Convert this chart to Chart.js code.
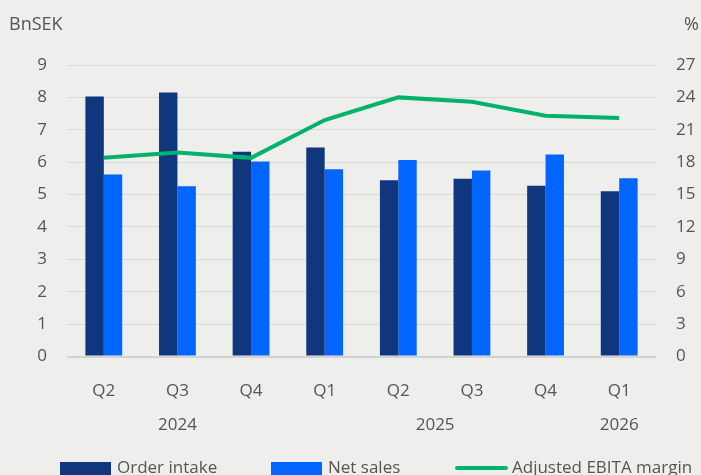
<!DOCTYPE html>
<html><head><meta charset="utf-8">
<script src="https://cdn.jsdelivr.net/npm/chart.js@4.4.0/dist/chart.umd.min.js"></script>
<style>html,body{margin:0;padding:0;background:#eeeeec;overflow:hidden}canvas{display:block}</style>
</head><body><canvas id="c" width="701" height="475"></canvas>
<script>
// Quarterly figures, BnSEK (bars) and % (line)
const quarters = ['Q2', 'Q3', 'Q4', 'Q1', 'Q2', 'Q3', 'Q4', 'Q1'];
const yearLabels = ['2024', '2025', '2026'];
const yearPositions = [1, 4.5, 7];
const orderIntake = [8.03, 8.15, 6.32, 6.45, 5.44, 5.49, 5.27, 5.10];
const netSales = [5.62, 5.26, 6.02, 5.78, 6.07, 5.74, 6.24, 5.50];
const ebitaMargin = [18.4, 18.9, 18.4, 21.9, 24.0, 23.6, 22.3, 22.1];

const FONT = '"Open Sans", "Liberation Sans", sans-serif';
const TEXT = '#555555';
const C_ORDER = '#10367e';
const C_SALES = '#0066ff';
const C_MARGIN = '#00b36b';

const extras = {
  id: 'extras',
  afterDraw(chart) {
    const ctx = chart.ctx;
    const x = chart.scales.x;
    ctx.save();
    ctx.fillStyle = TEXT;
    // unit captions
    ctx.font = '18px ' + FONT;
    ctx.textBaseline = 'alphabetic';
    ctx.textAlign = 'left';
    ctx.fillText('BnSEK', 9, 30);
    ctx.textAlign = 'right';
    ctx.fillText('%', 699, 30);
    // year row under the quarter labels
    ctx.font = '17px ' + FONT;
    ctx.textAlign = 'center';
    ctx.textBaseline = 'middle';
    yearLabels.forEach((y, i) => ctx.fillText(y, x.getPixelForValue(yearPositions[i]), 425));
    // legend
    const items = [
      { ds: chart.data.datasets[1], type: 'box' },
      { ds: chart.data.datasets[2], type: 'box' },
      { ds: chart.data.datasets[0], type: 'line' }
    ];
    const starts = [60, 271, 455];
    const cy = 468;
    ctx.textAlign = 'left';
    items.forEach((it, i) => {
      const lx = starts[i];
      if (it.type === 'box') {
        ctx.fillStyle = it.ds.backgroundColor;
        ctx.fillRect(lx, cy - 6, 51, 13);
      } else {
        ctx.strokeStyle = it.ds.borderColor;
        ctx.lineWidth = 4;
        ctx.lineCap = 'round';
        ctx.beginPath();
        ctx.moveTo(lx + 2, cy);
        ctx.lineTo(lx + 51, cy);
        ctx.stroke();
      }
      ctx.fillStyle = TEXT;
      ctx.fillText(it.ds.label, lx + 57, cy);
    });
    ctx.restore();
  }
};

new Chart(document.getElementById('c'), {
  data: {
    labels: quarters,
    datasets: [
      { type: 'line', label: 'Adjusted EBITA margin', data: ebitaMargin, yAxisID: 'y1',
        borderColor: C_MARGIN, backgroundColor: C_MARGIN, borderWidth: 4, pointRadius: 0,
        tension: 0, order: 0 },
      { type: 'bar', label: 'Order intake', data: orderIntake, yAxisID: 'y',
        backgroundColor: C_ORDER, categoryPercentage: 0.5, barPercentage: 1, order: 1 },
      { type: 'bar', label: 'Net sales', data: netSales, yAxisID: 'y',
        backgroundColor: C_SALES, categoryPercentage: 0.5, barPercentage: 1, order: 1 }
    ]
  },
  options: {
    responsive: false,
    animation: false,
    layout: { padding: { top: 65, left: 0, right: 0, bottom: 0 } },
    plugins: { legend: { display: false }, tooltip: { enabled: false } },
    scales: {
      x: {
        grid: { display: false },
        border: { display: false },
        ticks: { color: TEXT, font: { family: FONT, size: 17 }, padding: 16 },
        afterFit(s) { s.height = 118.5; }
      },
      y: {
        position: 'left', min: 0, max: 9,
        ticks: { stepSize: 1, color: TEXT, font: { family: FONT, size: 17 }, padding: 20 },
        grid: { color: ctx => ctx.tick.value === 0 ? '#d2d2d2' : '#d9d9d9',
                lineWidth: ctx => ctx.tick.value === 0 ? 2 : 1, drawTicks: false },
        border: { display: false },
        afterFit(s) { s.width = 67; }
      },
      y1: {
        position: 'right', min: 0, max: 27,
        ticks: { stepSize: 3, color: TEXT, font: { family: FONT, size: 17 }, padding: 12 },
        grid: { display: false },
        border: { display: false },
        afterFit(s) { s.width = 45; }
      }
    }
  },
  plugins: [extras]
});
</script>
</body></html>
